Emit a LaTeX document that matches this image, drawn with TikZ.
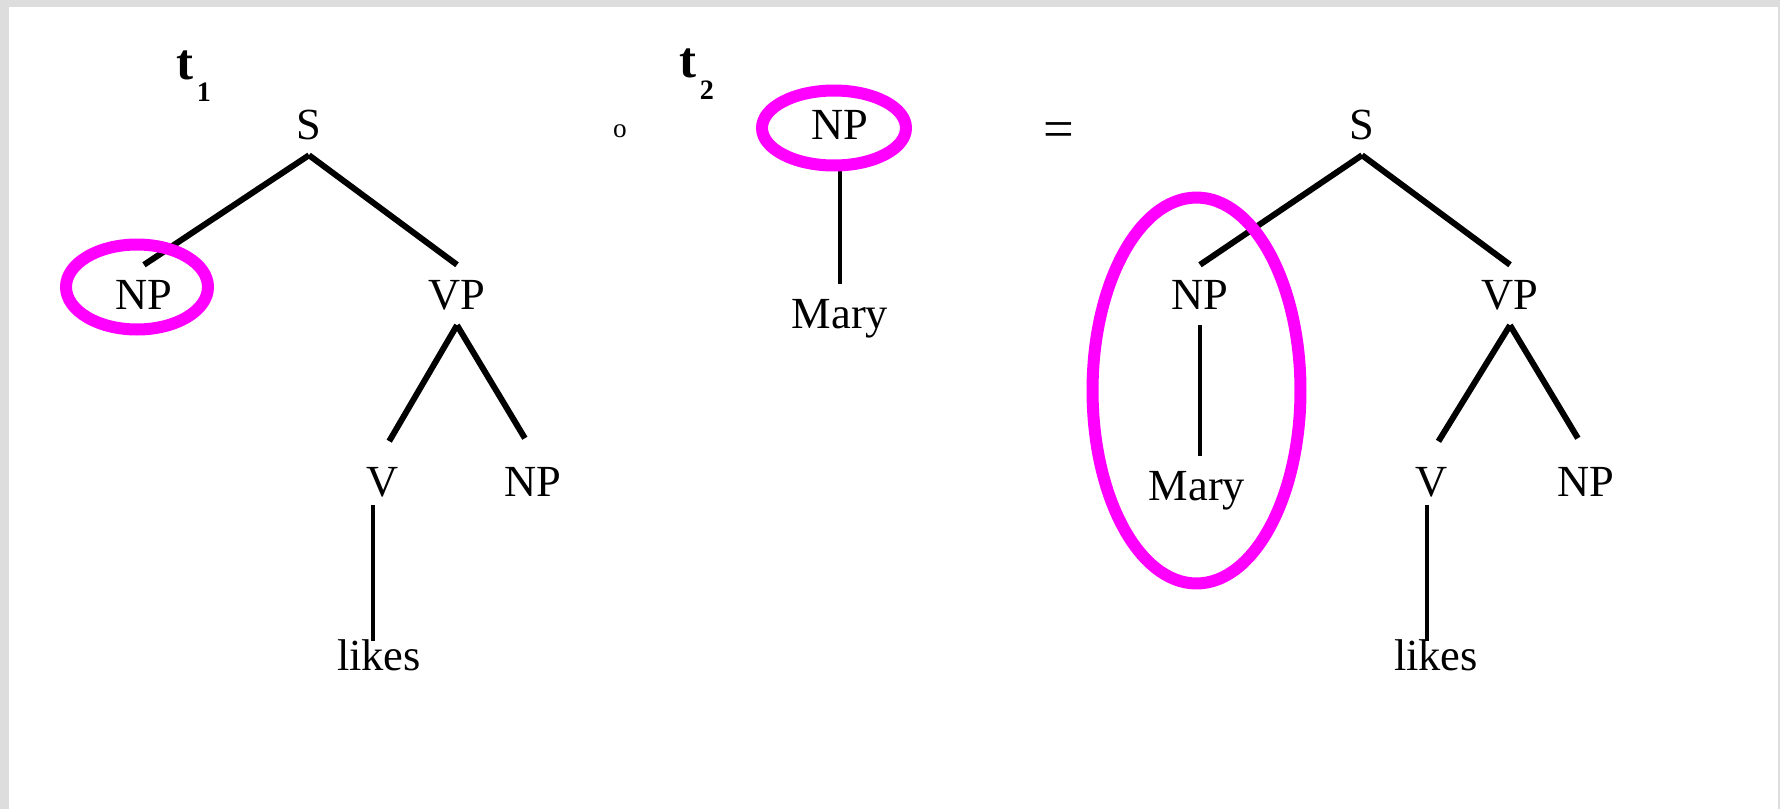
\documentclass[tikz,border=0pt]{standalone}
\usepackage{fontspec}
\setmainfont{Liberation Serif}
\usetikzlibrary{shapes.geometric, positioning, calc}

\definecolor{framegray}{HTML}{DDDDDD}
\definecolor{ringpink}{HTML}{FF00FF}

\begin{document}
\begin{tikzpicture}[
    x=0.02cm, y=-0.02cm,
    cat/.style={font=\fontsize{25.3}{30}\selectfont, text height=17pt, text depth=0pt, inner xsep=2pt, inner ysep=8.5pt},
    branch/.style={line width=0.12cm},
    stem/.style={line width=0.075cm},
    ring/.style={ellipse, draw=ringpink, line width=0.24cm, inner sep=0pt},
    tlabel/.style={font=\fontsize{29}{32}\selectfont\bfseries, inner sep=0pt, anchor=base west},
]

    % Page frame
    \fill[framegray] (0,0) rectangle (1780,809);
    \fill[white] (9,7) rectangle (1778,809);

    % Tree t1
    \node[tlabel] (t1) at (176,79) {t\kern2pt\raisebox{-0.44cm}{\fontsize{16}{17}\selectfont 1}};
    \node[cat] (s1) at (309,125) {S};
    \node[cat] at ($(s1)+(-165,170)$) (np1) {NP};
    \node[cat] at ($(s1)+(148,170)$) (vp1) {VP};
    \node[cat] at ($(vp1)+(-74,187)$) (v1) {V};
    \node[cat] at ($(vp1)+(76,187)$) (np1b) {NP};
    \node[cat] at ($(v1)+(-4,174)$) (likes1) {likes};

    \draw[branch] (s1.south) -- (np1.north);
    \draw[branch] (s1.south) -- (vp1.north);
    \draw[branch, shorten >=7pt] (vp1.south) -- (v1.north);
    \draw[branch, shorten >=9pt] (vp1.south) -- (np1b.north);
    \draw[stem, shorten <=-4pt, shorten >=-8.5pt] ($(v1.south)+(-10,0)$) -- ($(v1.south |- likes1.north)+(-10,0)$);

    % Substitution site in t1
    \node[ring, minimum width=2.84cm, minimum height=1.7cm] at ($(np1)+(-7,-8)$) (np1ring) {};

    % Composition sign
    \node[font=\fontsize{15.5}{18}\selectfont, inner sep=0pt] (comp) at (620,131) {o};

    % Tree t2
    \node[tlabel] (t2) at (679,77) {t\kern2pt\raisebox{-0.44cm}{\fontsize{16}{17}\selectfont 2}};
    \node[cat] (np3) at (840,125) {NP};
    \node[cat] at ($(np3)+(0,189)$) (mary3) {Mary};

    \draw[stem, shorten <=8pt] (np3.south) -- (mary3.north);

    % Root of t2
    \node[ring, minimum width=2.88cm, minimum height=1.5cm] at ($(np3)+(-6,3)$) (np3ring) {};

    % Result
    \node[cat, font=\fontsize{31}{34}\selectfont] (equals) at (1059,133) {=};

    \node[cat] (s2) at (1362,125) {S};
    \node[cat] at ($(s2)+(-162,170)$) (np2) {NP};
    \node[cat] at ($(s2)+(148,170)$) (vp2) {VP};
    \node[cat] at ($(np2)+(-3,191)$) (mary2) {Mary};
    \node[cat] at ($(vp2)+(-78,187)$) (v2) {V};
    \node[cat] at ($(vp2)+(76,187)$) (np2b) {NP};
    \node[cat] at ($(v2)+(4,174)$) (likes2) {likes};

    \draw[branch] (s2.south) -- (np2.north);
    \draw[branch] (s2.south) -- (vp2.north);
    \draw[stem] (np2.south) -- (np2.south |- mary2.north);
    \draw[branch, shorten >=7pt] (vp2.south) -- (v2.north);
    \draw[branch, shorten >=9pt] (vp2.south) -- (np2b.north);
    \draw[stem, shorten <=-4pt, shorten >=-8.5pt] ($(v2.south)+(-5,0)$) -- ($(v2.south |- likes2.north)+(-5,0)$);

    % Substituted subtree
    \node[ring, minimum width=4.16cm, minimum height=7.72cm] at ($(np2)!0.5!(mary2)+(-2,0)$) (np2ring) {};

\end{tikzpicture}
\end{document}
